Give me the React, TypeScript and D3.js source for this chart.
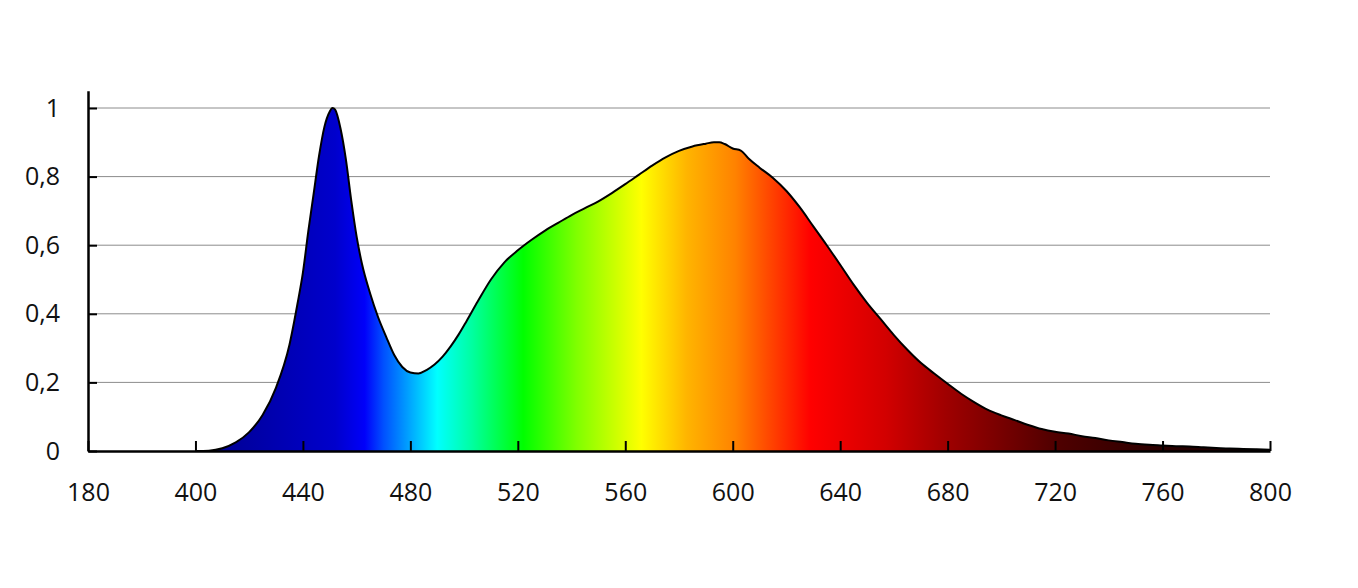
import { useEffect, useRef } from "react"
import * as d3 from "d3"

// Emission spectrum (normalised)
const wavelengths = [
  400, 405, 410, 415, 420, 425, 430, 435, 438, 440, 442, 444, 446, 448, 450, 451, 452, 454, 456, 458,
  460, 462, 465, 468, 471, 474, 477, 480, 483, 486, 489, 492, 495, 498, 501, 505, 510, 515, 520, 525,
  530, 535, 540, 545, 550, 555, 560, 565, 570, 575, 580, 585, 590, 593, 595, 597, 600, 603, 606, 610,
  615, 620, 625, 630, 635, 640, 645, 650, 655, 660, 665, 670, 675, 680, 685, 690, 695, 700, 705, 710,
  715, 720, 725, 730, 735, 740, 745, 750, 755, 760, 765, 770, 775, 780, 785, 790, 795, 800,
]

const intensity = [
  0, 0.001, 0.008, 0.025, 0.055, 0.105, 0.185, 0.31, 0.43, 0.52, 0.64, 0.75, 0.86, 0.945, 0.99, 1.0, 0.995, 0.94, 0.85, 0.73,
  0.625, 0.545, 0.46, 0.39, 0.333, 0.28, 0.245, 0.229, 0.226, 0.236, 0.252, 0.275, 0.305, 0.34, 0.38, 0.435, 0.5, 0.55, 0.585, 0.615,
  0.642, 0.665, 0.688, 0.708, 0.728, 0.752, 0.778, 0.805, 0.832, 0.856, 0.875, 0.888, 0.896, 0.9, 0.9, 0.895, 0.882, 0.876, 0.852, 0.826,
  0.796, 0.758, 0.71, 0.655, 0.6, 0.543, 0.485, 0.432, 0.385, 0.338, 0.295, 0.257, 0.226, 0.196, 0.167, 0.142, 0.12, 0.104, 0.09, 0.076,
  0.064, 0.056, 0.051, 0.043, 0.038, 0.031, 0.026, 0.021, 0.018, 0.016, 0.014, 0.013, 0.011, 0.009, 0.007, 0.006, 0.005, 0.004,
]

// The axis starts at a break: its first tick is labelled 180
const xTicks = [360, 400, 440, 480, 520, 560, 600, 640, 680, 720, 760, 800]
const xTickLabels = ["180", "400", "440", "480", "520", "560", "600", "640", "680", "720", "760", "800"]

const yTicks = [0, 0.2, 0.4, 0.6, 0.8, 1]
const yTickLabels = ["0", "0,2", "0,4", "0,6", "0,8", "1"]

// Colour of light per wavelength, used for the fill gradient
const spectrumNm = [405, 430, 452, 463, 470, 490, 503, 522, 542, 566, 583, 601, 615, 629, 657, 679, 720, 760, 800]
const spectrumColors = [
  "#000090", "#0000b0", "#0000cc", "#0000fa", "#0050ff", "#00ffff", "#00ffa0", "#00ff00", "#80ff00", "#ffff00",
  "#ffb400", "#ff8200", "#ff4000", "#ff0000", "#d20000", "#a00000", "#500000", "#2a0000", "#140000",
]

export default function App() {
  const svgRef = useRef<SVGSVGElement>(null)

  useEffect(() => {
    if (!svgRef.current) return

    d3.select(svgRef.current).selectAll("*").remove()

    const width = 1358
    const height = 588
    const margin = { left: 88, right: 88, bottom: 137 }
    const font = "'Open Sans', 'Liberation Sans', sans-serif"

    const svg = d3.select(svgRef.current).attr("width", width).attr("height", height)

    const x = d3
      .scaleLinear()
      .domain([360, 800])
      .range([margin.left, width - margin.right])

    const y = d3
      .scaleLinear()
      .domain([0, 1.05])
      .range([height - margin.bottom, height - margin.bottom - 360.15])

    const data = wavelengths.map((w, i) => ({ w, v: intensity[i] }))

    // Gradient along the wavelength axis
    const grad = svg
      .append("defs")
      .append("linearGradient")
      .attr("id", "spectrum")
      .attr("gradientUnits", "userSpaceOnUse")
      .attr("x1", x(spectrumNm[0]))
      .attr("x2", x(spectrumNm[spectrumNm.length - 1]))
      .attr("y1", 0)
      .attr("y2", 0)

    const nmSpan = spectrumNm[spectrumNm.length - 1] - spectrumNm[0]
    grad
      .selectAll("stop")
      .data(spectrumNm)
      .enter()
      .append("stop")
      .attr("offset", (d) => (d - spectrumNm[0]) / nmSpan)
      .attr("stop-color", (_, i) => spectrumColors[i])

    // Gridlines
    svg
      .append("g")
      .selectAll("line")
      .data(yTicks.filter((t) => t > 0))
      .enter()
      .append("line")
      .attr("x1", x(360))
      .attr("x2", x(800))
      .attr("y1", (d) => y(d))
      .attr("y2", (d) => y(d))
      .attr("stroke", "#8c8c8c")
      .attr("stroke-width", 1)

    // Filled spectrum
    const area = d3
      .area<{ w: number; v: number }>()
      .x((d) => x(d.w))
      .y0(y(0))
      .y1((d) => y(d.v))
      .curve(d3.curveMonotoneX)

    svg.append("path").datum(data).attr("d", area).attr("fill", "url(#spectrum)")

    const line = d3
      .line<{ w: number; v: number }>()
      .x((d) => x(d.w))
      .y((d) => y(d.v))
      .curve(d3.curveMonotoneX)

    svg
      .append("path")
      .datum(data)
      .attr("d", line)
      .attr("fill", "none")
      .attr("stroke", "#000")
      .attr("stroke-width", 2)
      .attr("stroke-linejoin", "round")

    // X axis
    const xAxis = svg
      .append("g")
      .attr("transform", `translate(0,${y(0)})`)
      .call(
        d3
          .axisBottom(x)
          .tickValues(xTicks)
          .tickSizeInner(-10)
          .tickSizeOuter(0)
          .tickPadding(32)
          .tickFormat((_, i) => xTickLabels[i])
      )
    xAxis.select(".domain").attr("stroke", "#000").attr("stroke-width", 2.5)
    xAxis.selectAll(".tick line").attr("stroke", "#000").attr("stroke-width", 2)
    xAxis
      .selectAll("text")
      .style("font-family", font)
      .style("font-size", "25px")
      .attr("fill", "#111")

    // Y axis
    const yAxis = svg
      .append("g")
      .attr("transform", `translate(${x(360)},0)`)
      .call(
        d3
          .axisLeft(y)
          .tickValues(yTicks)
          .tickSizeInner(-9)
          .tickSizeOuter(0)
          .tickPadding(28)
          .tickFormat((_, i) => yTickLabels[i])
      )
    yAxis.select(".domain").attr("stroke", "#000").attr("stroke-width", 2.5)
    yAxis.selectAll(".tick line").attr("stroke", "#000").attr("stroke-width", 2)
    yAxis
      .selectAll("text")
      .style("font-family", font)
      .style("font-size", "25px")
      .attr("fill", "#111")
  }, [])

  return (
    <svg
      ref={svgRef}
      style={{ position: "absolute", left: 0, top: 0, background: "#fff" }}
    ></svg>
  )
}
